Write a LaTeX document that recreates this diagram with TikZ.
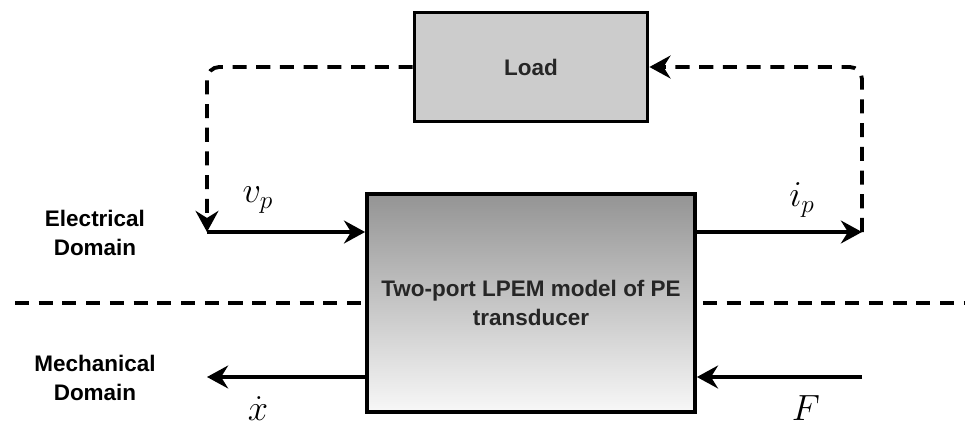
\documentclass[tikz,border=0pt]{standalone}
\usepackage{fontspec}
\setsansfont{Liberation Sans}
\usetikzlibrary{arrows.meta,calc,positioning}

\begin{document}
\begin{tikzpicture}[x=0.02cm, y=-0.02cm, >={Stealth[length=12pt,width=13pt,inset=4pt]}]
    \tikzstyle{blk}=[draw=black, line width=2.2pt, text=black!85, font=\sffamily\bfseries\fontsize{12.8}{16}\selectfont, align=center]
    \tikzstyle{sig}=[->, line width=2.2pt]
    \tikzstyle{fb}=[->, line width=2.2pt, dash pattern=on 8pt off 5.5pt, rounded corners=7pt]
    \tikzstyle{dom}=[font=\sffamily\bfseries\fontsize{12.8}{16}\selectfont, align=center]
    \tikzstyle{lbl}=[font=\fontsize{22}{26}\selectfont, inner sep=1pt]
    \useasboundingbox (0,0) rectangle (965,427);
    % boundary between the two domains
    \coordinate (sepL) at (15,303);
    \coordinate (sepR) at (965,303);
    \draw[line width=2.2pt, dash pattern=on 8pt off 5.5pt] (sepL) -- (sepR);
    % blocks
    \node[blk, fill=black!20, minimum width=4.66cm, minimum height=2.18cm] (load) at (531,67) {Load};
    \node[blk, top color=black!42, bottom color=black!3, minimum width=6.56cm, minimum height=4.36cm] (pem) at (531,303) {Two-port LPEM model of PE\\transducer};
    % port ends
    \coordinate (vin) at (207,232);
    \coordinate (iout) at (862,232);
    \coordinate (xout) at (207,377);
    \coordinate (fin) at (862,377);
    \draw[sig] (vin) -- (vin -| pem.west);
    \draw[sig] (iout -| pem.east) -- (iout);
    \draw[sig] (xout -| pem.west) -- (xout);
    \draw[sig] (fin) -- (fin -| pem.east);
    \draw[fb] (load.west) -| (vin);
    \draw[fb] (iout) |- (load.east);
    % labels
    \node[lbl] (vp) at (258,200) {$v_p$};
    \node[lbl] (ip) at (802,200) {$i_p$};
    \node[lbl] (xd) at (258,409) {$\dot{x}$};
    \node[lbl] (ff) at (806,408) {$F$};
    \node[dom] (elec) at (95,233) {Electrical\\Domain};
    \node[dom] (mech) at (95,378) {Mechanical\\Domain};
\end{tikzpicture}
\end{document}
